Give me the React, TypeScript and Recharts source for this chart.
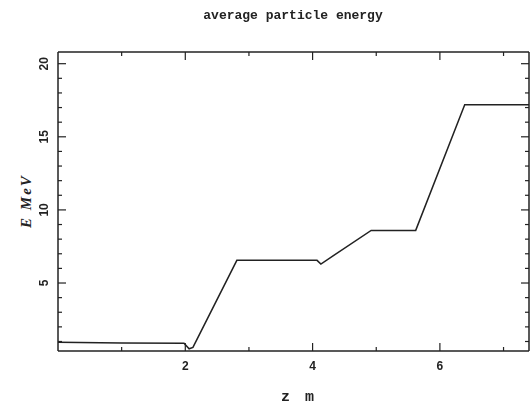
import React from 'react';
import { LineChart, Line, XAxis, YAxis } from 'recharts';

// position along the beam (m) and the average energy (MeV)
const zValues = [0, 1, 1.98, 2.06, 2.12, 2.81, 4.07, 4.13, 4.92, 5.62, 6.39, 7.4];
const energyValues = [0.95, 0.9, 0.88, 0.5, 0.6, 6.55, 6.55, 6.3, 8.6, 8.6, 17.2, 17.2];

const xTicks = [1, 2, 3, 4, 5, 6, 7];
const xMajor = [2, 4, 6];
const yTicks = Array.from({ length: 20 }, (_, i) => i + 1);
const yMajor = [5, 10, 15, 20];

const data = zValues.map((z, i) => ({ z, e: energyValues[i] }));

const INK = '#222';
const labelFont = '"Liberation Sans", Arial, sans-serif';

const BottomTick = ({ x, y, payload, labels }: any) => {
  const major = xMajor.includes(payload.value);
  const len = major ? 8 : 4;
  return (
    <g>
      <line x1={x} x2={x} y1={y} y2={y - len} stroke={INK} strokeWidth={1.2} />
      {labels && major && (
        <text x={x} y={y + 19} textAnchor="middle" fontFamily={labelFont} fontWeight="bold" fontSize={12} fill={INK}>
          {payload.value}
        </text>
      )}
    </g>
  );
};

const TopTick = ({ x, y, payload }: any) => {
  const len = xMajor.includes(payload.value) ? 8 : 4;
  return <line x1={x} x2={x} y1={y} y2={y + len} stroke={INK} strokeWidth={1.2} />;
};

const LeftTick = ({ x, y, payload }: any) => {
  const major = yMajor.includes(payload.value);
  const len = major ? 8 : 4;
  return (
    <g>
      <line x1={x} x2={x + len} y1={y} y2={y} stroke={INK} strokeWidth={1.2} />
      {major && (
        <text
          x={x - 10}
          y={y}
          transform={`rotate(-90 ${x - 10} ${y})`}
          textAnchor="middle"
          fontFamily={labelFont}
          fontWeight="bold"
          fontSize={12}
          fill={INK}
        >
          {payload.value}
        </text>
      )}
    </g>
  );
};

const RightTick = ({ x, y, payload }: any) => {
  const len = yMajor.includes(payload.value) ? 8 : 4;
  return <line x1={x} x2={x - len} y1={y} y2={y} stroke={INK} strokeWidth={1.2} />;
};

const App = () => {
  return (
    <div style={{ position: 'fixed', left: 0, top: 0, width: 531, height: 411, background: '#fff' }}>
      <div
        style={{
          position: 'absolute',
          left: 0,
          width: 586,
          top: 8,
          textAlign: 'center',
          fontFamily: '"Liberation Mono", monospace',
          fontWeight: 'bold',
          fontSize: 13,
          color: INK,
        }}
      >
        average particle energy
      </div>
      <div
        style={{
          position: 'absolute',
          left: 0,
          width: 598,
          top: 389,
          textAlign: 'center',
          fontFamily: '"Liberation Mono", monospace',
          fontWeight: 'bold',
          fontSize: 15,
          letterSpacing: 3,
          color: INK,
        }}
      >
        z m
      </div>
      <div
        style={{
          position: 'absolute',
          left: 26,
          top: 201,
          transform: 'translate(-50%, -50%) rotate(-90deg)',
          fontFamily: '"Liberation Serif", serif',
          fontStyle: 'italic',
          fontWeight: 'bold',
          fontSize: 15,
          letterSpacing: 2,
          whiteSpace: 'nowrap',
          color: INK,
        }}
      >
        E MeV
      </div>
      <LineChart width={531} height={411} data={data} margin={{ top: 51, right: 1, bottom: 0, left: 0 }}>
        <XAxis
          xAxisId="b"
          dataKey="z"
          type="number"
          domain={[0, 7.4]}
          ticks={xTicks}
          interval={0}
          allowDataOverflow
          height={60}
          tickSize={0}
          tickMargin={0}
          tickLine={false}
          axisLine={{ stroke: INK, strokeWidth: 1.5 }}
          tick={<BottomTick labels />}
        />
        <XAxis
          xAxisId="t"
          orientation="top"
          dataKey="z"
          type="number"
          domain={[0, 7.4]}
          ticks={xTicks}
          interval={0}
          allowDataOverflow
          height={1}
          tickSize={0}
          tickMargin={0}
          tickLine={false}
          axisLine={{ stroke: INK, strokeWidth: 1.5 }}
          tick={<TopTick />}
        />
        <YAxis
          yAxisId="l"
          type="number"
          domain={[0.35, 20.8]}
          ticks={yTicks}
          interval={0}
          allowDataOverflow
          width={58}
          tickSize={0}
          tickMargin={0}
          tickLine={false}
          axisLine={{ stroke: INK, strokeWidth: 1.5 }}
          tick={<LeftTick />}
        />
        <YAxis
          yAxisId="r"
          orientation="right"
          type="number"
          domain={[0.35, 20.8]}
          ticks={yTicks}
          interval={0}
          allowDataOverflow
          width={1}
          tickSize={0}
          tickMargin={0}
          tickLine={false}
          axisLine={{ stroke: INK, strokeWidth: 1.5 }}
          tick={<RightTick />}
        />
        <Line
          xAxisId="b"
          yAxisId="l"
          type="linear"
          dataKey="e"
          stroke={INK}
          strokeWidth={1.5}
          dot={false}
          isAnimationActive={false}
        />
      </LineChart>
    </div>
  );
};

export default App;
